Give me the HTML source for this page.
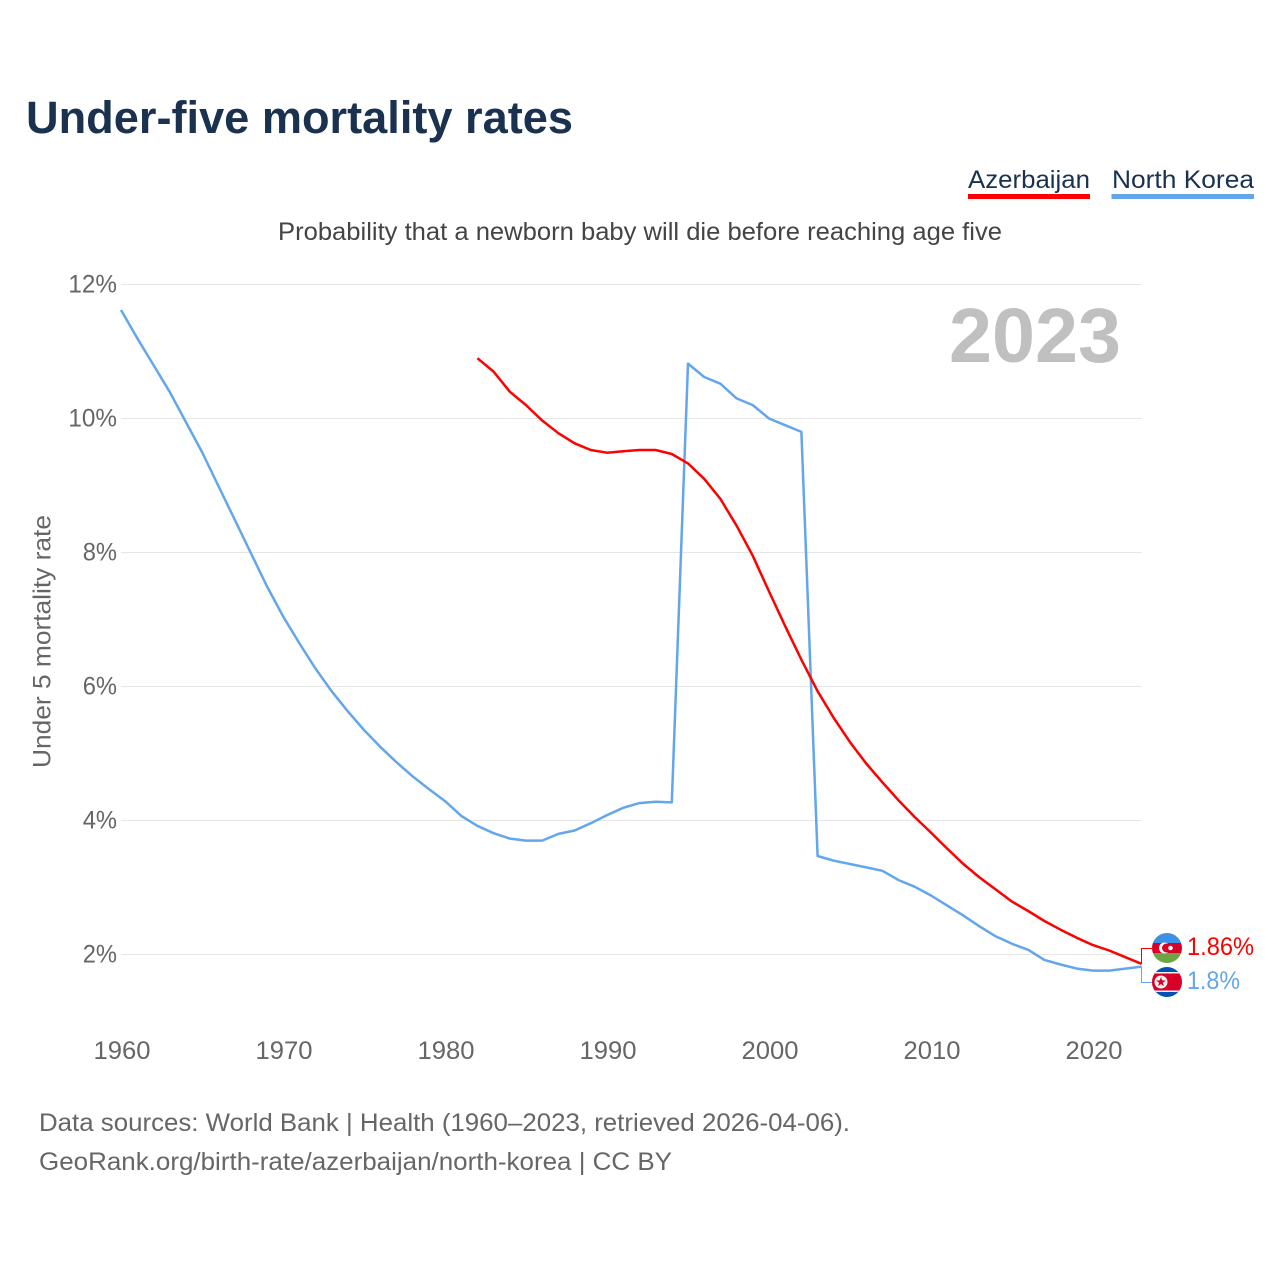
<!DOCTYPE html>
<html lang="en">
<head>
<meta charset="utf-8">
<title>Under-five mortality rates</title>
<style>
html,body{margin:0;padding:0;background:#fff;}
svg{display:block;}
text{font-family:"Liberation Sans",sans-serif;}
</style>
</head>
<body>
<svg id="chart" xmlns="http://www.w3.org/2000/svg" width="1280" height="1280" viewBox="0 0 1280 1280">
  <rect x="0" y="0" width="1280" height="1280" fill="#ffffff"/>
  <text x="26" y="133" font-size="45" font-weight="700" fill="#1a3150" textLength="547" lengthAdjust="spacingAndGlyphs">Under-five mortality rates</text>

  <g>
    <g>
      <text x="968" y="188" font-size="25" fill="#1a3150" textLength="122" lengthAdjust="spacingAndGlyphs">Azerbaijan</text>
      <rect x="968" y="194" width="122" height="5" fill="#ff0000"/>
    </g>
    <g>
      <text x="1112" y="188" font-size="25" fill="#1a3150" textLength="142" lengthAdjust="spacingAndGlyphs">North Korea</text>
      <rect x="1111.500" y="194" width="142.500" height="5" fill="#63a6ec"/>
    </g>
  </g>

  <text x="278" y="240" font-size="25" fill="#444444" textLength="724" lengthAdjust="spacingAndGlyphs">Probability that a newborn baby will die before reaching age five</text>

  <g id="grid"></g>
  <g id="yticks"></g>
  <g id="xticks"></g>

  <text transform="translate(50.500,768) rotate(-90)" x="0" y="0" font-size="25" fill="#666666" textLength="253" lengthAdjust="spacingAndGlyphs">Under 5 mortality rate</text>

  <text x="949" y="362" font-size="77" font-weight="700" fill="#c0c0c0" textLength="172" lengthAdjust="spacingAndGlyphs">2023</text>

  <g id="series"></g>

  <defs>
    <clipPath id="clip-az"><circle cx="1167" cy="948" r="15"/></clipPath>
    <clipPath id="clip-kp"><circle cx="1167" cy="982" r="15"/></clipPath>
  </defs>

  <g clip-path="url(#clip-az)">
    <rect x="1152" y="933" width="30" height="10" fill="#3d90e3"/>
    <rect x="1152" y="943" width="30" height="10" fill="#d80027"/>
    <rect x="1152" y="953" width="30" height="10" fill="#6da544"/>
    <circle cx="1164.500" cy="948" r="5.500" fill="#ffffff"/>
    <circle cx="1166.500" cy="948" r="4.500" fill="#d80027"/>
    <circle cx="1170.500" cy="948" r="2.300" fill="#ffffff"/>
  </g>
  <g clip-path="url(#clip-kp)">
    <rect x="1152" y="967" width="30" height="30" fill="#0052b4"/>
    <rect x="1152" y="972" width="30" height="20" fill="#f0f0f0"/>
    <rect x="1152" y="973.500" width="30" height="17" fill="#d80027"/>
    <circle cx="1161" cy="982" r="6.500" fill="#f0f0f0"/>
    <polygon points="1161,977 1162.200,980.400 1165.800,980.500 1162.900,982.700 1164,986.100 1161,984.100 1158,986.100 1159.100,982.700 1156.200,980.500 1159.800,980.400" fill="#d80027"/>
  </g>

  <text x="1187" y="955" font-size="25" fill="#ff0000" textLength="67" lengthAdjust="spacingAndGlyphs">1.86%</text>
  <text x="1187" y="989" font-size="25" fill="#63a6ec" textLength="53" lengthAdjust="spacingAndGlyphs">1.8%</text>

  <text x="39" y="1131" font-size="25" fill="#666666" textLength="811" lengthAdjust="spacingAndGlyphs">Data sources: World Bank | Health (1960–2023, retrieved 2026-04-06).</text>
  <text x="39" y="1170" font-size="25" fill="#666666" textLength="633" lengthAdjust="spacingAndGlyphs">GeoRank.org/birth-rate/azerbaijan/north-korea | CC BY</text>
</svg>
<script>
const yTickValues = [2, 4, 6, 8, 10, 12];
const xTickYears = [1960, 1970, 1980, 1990, 2000, 2010, 2020];
const northKoreaStartYear = 1960;
const northKoreaValues = [
  11.62, 11.2, 10.8, 10.4, 9.95, 9.5, 9.0, 8.5, 8.0, 7.5,
  7.05, 6.65, 6.27, 5.93, 5.63, 5.35, 5.1, 4.87, 4.66, 4.47,
  4.29, 4.07, 3.92, 3.81, 3.73, 3.7, 3.7, 3.8, 3.85, 3.96,
  4.08, 4.19, 4.26, 4.28, 4.27, 10.82, 10.62, 10.52, 10.3, 10.2,
  10.0, 9.9, 9.8, 3.47, 3.4, 3.35, 3.3, 3.25, 3.11, 3.01,
  2.88, 2.73, 2.58, 2.42, 2.27, 2.16, 2.07, 1.92, 1.85, 1.79,
  1.76, 1.76, 1.79, 1.82
];
const azerbaijanStartYear = 1982;
const azerbaijanValues = [
  10.9, 10.7, 10.4, 10.2, 9.97, 9.78, 9.63, 9.53,
  9.49, 9.51, 9.53, 9.53, 9.47, 9.33, 9.1, 8.8, 8.4, 7.95,
  7.42, 6.9, 6.4, 5.93, 5.53, 5.17, 4.85, 4.57, 4.3, 4.05,
  3.82, 3.58, 3.35, 3.15, 2.97, 2.79, 2.65, 2.5, 2.37, 2.25,
  2.14, 2.06, 1.96, 1.86
];

const NS = 'http://www.w3.org/2000/svg';
const xScale = function (year) { return 121 + (year - 1960) * 16.2; };
const yScale = function (pct) { return 954.5 - (pct - 2) * 67; };
const plotRight = 1141.5;
const NK_COLOR = '#63a6ec';
const AZ_COLOR = '#ff0000';

function tickWidth(label) {
  let w = 0;
  for (const ch of label) { w += ch === '%' ? 20 : 14.3; }
  return w;
}

const gridGroup = document.getElementById('grid');
const yGroup = document.getElementById('yticks');
yTickValues.forEach(function (v) {
  const line = document.createElementNS(NS, 'line');
  
  
  line.setAttribute('x1', xScale(1960));
  line.setAttribute('x2', plotRight);
  line.setAttribute('y1', yScale(v));
  line.setAttribute('y2', yScale(v));
  line.setAttribute('stroke', '#e6e6e6');
  line.setAttribute('stroke-width', '1');
  gridGroup.appendChild(line);

  const label = v + '%';
  const t = document.createElementNS(NS, 'text');
  
  
  t.setAttribute('x', 117 - tickWidth(label));
  t.setAttribute('y', yScale(v) + 8);
  t.setAttribute('font-size', '25');
  t.setAttribute('fill', '#666666');
  t.setAttribute('textLength', tickWidth(label));
  t.setAttribute('lengthAdjust', 'spacingAndGlyphs');
  t.textContent = label;
  yGroup.appendChild(t);
});

const xGroup = document.getElementById('xticks');
xTickYears.forEach(function (year) {
  const label = String(year);
  const t = document.createElementNS(NS, 'text');
  
  
  t.setAttribute('x', xScale(year) - 27.5);
  t.setAttribute('y', 1059);
  t.setAttribute('font-size', '25');
  t.setAttribute('fill', '#666666');
  t.setAttribute('textLength', '57');
  t.setAttribute('lengthAdjust', 'spacingAndGlyphs');
  t.textContent = label;
  xGroup.appendChild(t);
});

function linePoints(startYear, values) {
  return values.map(function (v, i) {
    return xScale(startYear + i).toFixed(1) + ',' + yScale(v).toFixed(1);
  }).join(' ');
}

const seriesGroup = document.getElementById('series');

const nkLine = document.createElementNS(NS, 'polyline');


nkLine.setAttribute('points', linePoints(northKoreaStartYear, northKoreaValues));
nkLine.setAttribute('fill', 'none');
nkLine.setAttribute('stroke', NK_COLOR);
nkLine.setAttribute('stroke-width', '2.5');
nkLine.setAttribute('stroke-linejoin', 'round');
seriesGroup.appendChild(nkLine);

const azLine = document.createElementNS(NS, 'polyline');


azLine.setAttribute('points', linePoints(azerbaijanStartYear, azerbaijanValues));
azLine.setAttribute('fill', 'none');
azLine.setAttribute('stroke', AZ_COLOR);
azLine.setAttribute('stroke-width', '2.5');
azLine.setAttribute('stroke-linejoin', 'round');
seriesGroup.appendChild(azLine);

const azEnd = yScale(azerbaijanValues[azerbaijanValues.length - 1]);
const nkEnd = yScale(northKoreaValues[northKoreaValues.length - 1]);

const azConnector = document.createElementNS(NS, 'polyline');


azConnector.setAttribute('points', plotRight + ',' + azEnd + ' ' + plotRight + ',948.5 1152,948.5');
azConnector.setAttribute('fill', 'none');
azConnector.setAttribute('stroke', AZ_COLOR);
azConnector.setAttribute('stroke-width', '1');
seriesGroup.appendChild(azConnector);

const nkConnector = document.createElementNS(NS, 'polyline');


nkConnector.setAttribute('points', plotRight + ',' + nkEnd + ' ' + plotRight + ',982.5 1152,982.5');
nkConnector.setAttribute('fill', 'none');
nkConnector.setAttribute('stroke', NK_COLOR);
nkConnector.setAttribute('stroke-width', '1');
seriesGroup.appendChild(nkConnector);
</script>
</body>
</html>
